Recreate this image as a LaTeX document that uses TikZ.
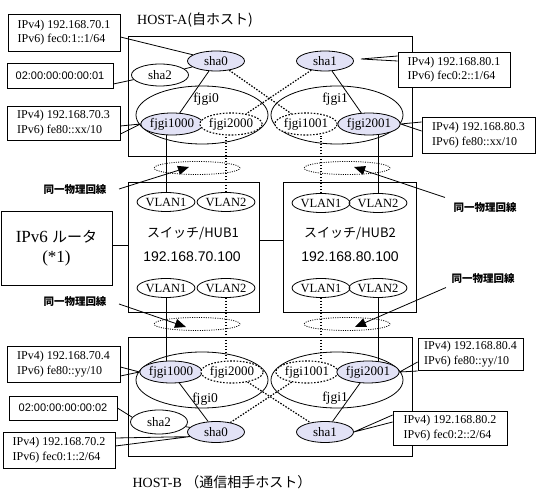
\documentclass[tikz,border=0pt]{standalone}
\usepackage{fontspec}
\setmainfont{Liberation Serif}
\setsansfont{Liberation Sans}
\newfontfamily\jp{Noto Sans CJK JP}
\usetikzlibrary{shapes.geometric,arrows.meta,backgrounds,calc}
\definecolor{lav}{RGB}{226,226,246}
\begin{document}
\begin{tikzpicture}[x=1pt,y=-1pt,
  ifc/.style={draw,ellipse,inner sep=0pt,line width=0.8pt,font=\fontsize{13}{13}\selectfont,minimum width=57pt,minimum height=20pt},
  act/.style={ifc,fill=lav},
  stby/.style={ifc,fill=white,dash pattern=on 1.6pt off 1.6pt,line width=1.1pt},
  grp/.style={draw,ellipse,line width=0.8pt,minimum width=132pt,minimum height=58pt,inner sep=0pt},
  vlan/.style={draw,ellipse,inner sep=0pt,line width=0.8pt,minimum width=48pt,minimum height=19pt,font=\fontsize{12.5}{13}\selectfont},
  frame/.style={draw,line width=0.8pt,inner sep=0pt},
  note/.style={draw,fill=white,line width=0.8pt,inner xsep=6pt,inner ysep=0pt,align=left,font=\fontsize{12}{14.5}\selectfont},
  sameline/.style={draw,ellipse,line width=0.8pt,dash pattern=on 1pt off 1.3pt,minimum width=86pt,minimum height=13pt,inner sep=0pt},
  jlbl/.style={font=\jp\bfseries\fontsize{10.5}{12}\selectfont},
  glbl/.style={font=\fontsize{13.5}{14}\selectfont},
  link/.style={line width=0.8pt},
  vlink/.style={line width=1.2pt,dash pattern=on 1.5pt off 1.5pt},
  pointer/.style={line width=0.8pt,-{Triangle[length=11pt,width=9pt]}}
]
\useasboundingbox (0,0) rectangle (539,494);

% ---------- frames ----------
\node[frame,minimum width=284pt,minimum height=120pt] (hostA) at (270,96) {};
\node[frame,minimum width=284pt,minimum height=119pt] (hostB) at (270,396.5) {};
\node[frame,minimum width=131pt,minimum height=130pt] (hub1) at (193.5,247) {};
\node[frame,minimum width=133pt,minimum height=130pt] (hub2) at (349.5,247) {};
\node[frame,minimum width=111pt,minimum height=74pt,align=center,font=\fontsize{17}{20}\selectfont] (router) at (56.5,248) {IPv6 {\jp\fontsize{15}{20}\selectfont ルータ}\\(*1)};

\node[font=\fontsize{14}{14}\selectfont] (titleA) at (195,20) {HOST-A{\jp (自ホスト)}};
\node[font=\fontsize{14}{14}\selectfont] (titleB) at (222,482) {HOST-B {\jp （通信相手ホスト）}};

% ---------- hubs ----------
\node[font=\jp\fontsize{13}{14}\selectfont] (hub1name) at (193,234) {スイッチ/HUB1};
\node[font=\sffamily\fontsize{14}{14}\selectfont] (hub1ip) at (192,257) {192.168.70.100};
\node[font=\jp\fontsize{13}{14}\selectfont] (hub2name) at (350,234) {スイッチ/HUB2};
\node[font=\sffamily\fontsize{14}{14}\selectfont] (hub2ip) at (350,257) {192.168.80.100};

\node[vlan] (v11t) at (166,202) {VLAN1};
\node[vlan] (v12t) at (226,202) {VLAN2};
\node[vlan] (v11b) at (166,288) {VLAN1};
\node[vlan] (v12b) at (226,288) {VLAN2};
\node[vlan] (v21t) at (321,203) {VLAN1};
\node[vlan] (v22t) at (378,203) {VLAN2};
\node[vlan] (v21b) at (321,288) {VLAN1};
\node[vlan] (v22b) at (378,288) {VLAN2};

% ---------- HOST-A ----------
\node[grp] (fjgi0A) at (202,115) {};
\node[grp] (fjgi1A) at (337,115) {};
\node[glbl] (lfjgi0A) at (206,99) {fjgi0};
\node[glbl] (lfjgi1A) at (335,99) {fjgi1};
\node[act] (sha0A) at (216,61) {sha0};
\node[ifc,minimum height=22pt] (sha2A) at (160,75) {sha2};
\node[act] (sha1A) at (325,61) {sha1};
\node[act,minimum width=58pt,minimum height=22pt] (fjgi1000A) at (172,124) {fjgi1000};
\node[stby,minimum width=56pt,minimum height=22pt] (fjgi2000A) at (231,124) {fjgi2000};
\node[stby,minimum width=56pt,minimum height=22pt] (fjgi1001A) at (306,124) {fjgi1001};
\node[act,minimum width=58pt,minimum height=22pt] (fjgi2001A) at (369,124) {fjgi2001};

% ---------- HOST-B ----------
\node[grp,minimum height=56pt] (fjgi0B) at (202,380) {};
\node[grp,minimum height=56pt] (fjgi1B) at (337,380) {};
\node[glbl] (lfjgi0B) at (205,399) {fjgi0};
\node[glbl] (lfjgi1B) at (335,398) {fjgi1};
\node[act,minimum width=58pt,minimum height=22pt] (fjgi1000B) at (171,372) {fjgi1000};
\node[stby,minimum width=56pt,minimum height=22pt] (fjgi2000B) at (232,372) {fjgi2000};
\node[stby,minimum width=57pt,minimum height=22pt] (fjgi1001B) at (307,372) {fjgi1001};
\node[act,minimum width=60pt,minimum height=22pt] (fjgi2001B) at (368,372) {fjgi2001};
\node[ifc,minimum height=24pt] (sha2B) at (159,422) {sha2};
\node[act,minimum height=21pt] (sha0B) at (216,432) {sha0};
\node[act,minimum height=21pt] (sha1B) at (325,432) {sha1};

% ---------- same physical line ----------
\node[sameline] (pl1) at (197,168) {};
\node[sameline] (pl2) at (347,168) {};
\node[sameline] (pl3) at (197,324) {};
\node[sameline] (pl4) at (347,324) {};
\node[jlbl] (lbl1) at (75,190) {同一物理回線};
\node[jlbl] (lbl2) at (485,208) {同一物理回線};
\node[jlbl] (lbl3) at (75,302) {同一物理回線};
\node[jlbl] (lbl4) at (483,279) {同一物理回線};
\coordinate (t1) at (189,167);
\coordinate (t2) at (354,167);
\coordinate (t3) at (186,327);
\coordinate (t4) at (355,327);
\draw[pointer] ($(lbl1.east)+(9,-1)$) -- (t1);
\draw[pointer] ($(lbl2.north west)+(-5,-2)$) -- (t2);
\draw[pointer] ($(lbl3.east)+(9,2)$) -- (t3);
\draw[pointer] ($(lbl4.south west)+(-2,0)$) -- (t4);

% ---------- callouts ----------
\node[note,minimum width=112pt,minimum height=37pt] (cA1) at (64,32.5) {IPv4) 192.168.70.1\\IPv6) fec0:1::1/64};
\node[note,minimum width=106pt,minimum height=25pt,font=\sffamily\fontsize{11}{14}\selectfont] (cA2) at (60,75.5) {02:00:00:00:00:01};
\node[note,minimum width=113pt,minimum height=34pt] (cA3) at (63.5,123) {IPv4) 192.168.70.3\\IPv6) fe80::xx/10};
\node[note,minimum width=112pt,minimum height=35pt] (cA4) at (454,69.5) {IPv4) 192.168.80.1\\IPv6) fec0:2::1/64};
\node[note,minimum width=113pt,minimum height=36pt] (cA5) at (478.5,135) {IPv4) 192.168.80.3\\IPv6) fe80::xx/10};
\node[note,minimum width=113pt,minimum height=36pt] (cB1) at (63.5,364) {IPv4) 192.168.70.4\\IPv6) fe80::yy/10};
\node[note,minimum width=108pt,minimum height=24pt,font=\sffamily\fontsize{11}{14}\selectfont] (cB2) at (63,408) {02:00:00:00:00:02};
\node[note,minimum width=112pt,minimum height=36pt] (cB3) at (59,450) {IPv4) 192.168.70.2\\IPv6) fec0:1::2/64};
\node[note,minimum width=105pt,minimum height=32pt] (cB4) at (470.5,354) {IPv4) 192.168.80.4\\IPv6) fe80::yy/10};
\node[note,minimum width=114pt,minimum height=34pt] (cB5) at (450,428) {IPv4) 192.168.80.2\\IPv6) fec0:2::2/64};
\coordinate (tA4) at (361,59);

\begin{scope}[on background layer]
  % host-internal links
  \draw[link] (sha0A) -- (sha2A);
  \draw[link] (sha0A) -- (fjgi1000A);
  \draw[vlink] (sha0A) -- (fjgi1001A);
  \draw[vlink] (sha1A) -- (fjgi2000A);
  \draw[link] (sha1A) -- (fjgi2001A);
  \draw[link] (sha0B) -- (sha2B);
  \draw[link] (fjgi1000B) -- (sha0B);
  \draw[vlink] (fjgi1001B) -- (sha0B);
  \draw[vlink] (fjgi2000B) -- (sha1B);
  \draw[link] (fjgi2001B) -- (sha1B);
  % verticals to the hubs
  \draw[link] (v11t.north) -- (v11t.north |- fjgi1000A.south);
  \draw[vlink] (v12t.north) -- (v12t.north |- fjgi2000A.south);
  \draw[vlink] (v21t.north) -- (v21t.north |- fjgi1001A.south);
  \draw[link] (v22t.north) -- (v22t.north |- fjgi2001A.south);
  \draw[link] (v11b.south) -- (v11b.south |- fjgi1000B.north);
  \draw[vlink] (v12b.south) -- (v12b.south |- fjgi2000B.north);
  \draw[vlink] (v21b.south) -- (v21b.south |- fjgi1001B.north);
  \draw[link] (v22b.south) -- (v22b.south |- fjgi2001B.north);
  % hub links
  \draw[link] (hub1.east |- 0,240) -- (hub2.west |- 0,240);
  \draw[link] (router.east |- 0,245) -- (hub1.west |- 0,245);
  % callout leaders
  \draw[link] (cA1.east |- 0,37) -- (sha0A.165);
  \draw[link] (cA2.east |- 0,84) -- (sha2A.190);
  \draw[link] (cA3.east |- 0,126) -- (fjgi1000A.west) -- (cA3.east |- 0,134);
  \draw[link] (cA4.west |- 0,56) -- (tA4) -- (cA4.west |- 0,61);
  \draw[link] (cA5.west |- 0,122) -- (fjgi2001A.east) -- (cA5.west |- 0,131);
  \draw[link] (cB1.east |- 0,367) -- (fjgi1000B.west) -- (cB1.east |- 0,376);
  \draw[link] (cB2.east |- 0,408) -- (sha2B.170);
  \draw[link] (cB3.east |- 0,438) -- (sha0B.190) -- (cB3.east |- 0,446);
  \draw[link] (cB4.west |- 0,362) -- (fjgi2001B.east) -- (cB4.west |- 0,371);
  \draw[link] (cB5.west |- 0,415) -- (sha1B.east) -- (cB5.west |- 0,422);
\end{scope}
\end{tikzpicture}
\end{document}
